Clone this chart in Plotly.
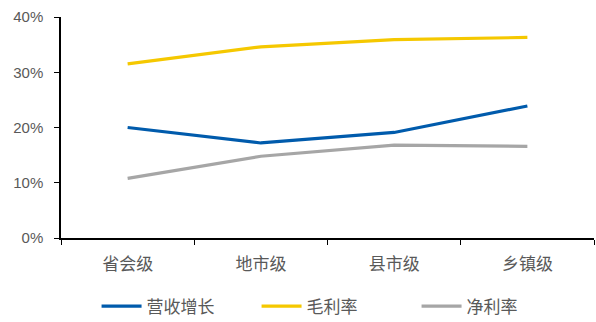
import plotly.graph_objects as go

categories = ["省会级", "地市级", "县市级", "乡镇级"]
revenue_growth = [20.0, 17.2, 19.1, 23.9]
gross_margin = [31.5, 34.6, 35.9, 36.3]
net_margin = [10.8, 14.8, 16.8, 16.6]

series = [
    ("营收增长", revenue_growth, "#005BAC"),
    ("毛利率", gross_margin, "#F5C800"),
    ("净利率", net_margin, "#A6A6A6"),
]

fig = go.Figure()
for name, vals, color in series:
    fig.add_trace(go.Scatter(
        x=categories, y=vals, name=name, mode="lines",
        line=dict(color=color, width=3.2),
    ))

cjk = "Noto Sans CJK SC, sans-serif"
fig.update_layout(
    width=596, height=322,
    margin=dict(l=61, r=2, t=17, b=84, autoexpand=False),
    plot_bgcolor="white", paper_bgcolor="white",
    font=dict(family="Liberation Sans, Arial, sans-serif", color="#595959", size=14),
    showlegend=True,
    legend=dict(
        orientation="h", x=0.517, xanchor="center", y=-0.31, yanchor="middle",
        font=dict(size=17, color="#595959", family=cjk),
        itemwidth=40, tracegroupgap=0, entrywidth=105,
    ),
    xaxis=dict(
        type="category", range=[-0.5, 3.5],
        showline=True, linecolor="black", linewidth=1.5,
        ticks="outside", tickson="boundaries", ticklen=5, tickcolor="black",
        tickfont=dict(size=17, family=cjk, color="#595959"),
        ticklabelstandoff=10,
        showgrid=False, zeroline=False,
    ),
    yaxis=dict(
        range=[0, 40], dtick=10, ticksuffix="%", showline=True, linecolor="black",
        linewidth=1.5, ticks="outside", ticklen=5, tickcolor="black",
        tickfont=dict(size=15, color="#595959"),
        ticklabelstandoff=8,
        showgrid=False, zeroline=False,
    ),
)

fig.write_html("out.html")
